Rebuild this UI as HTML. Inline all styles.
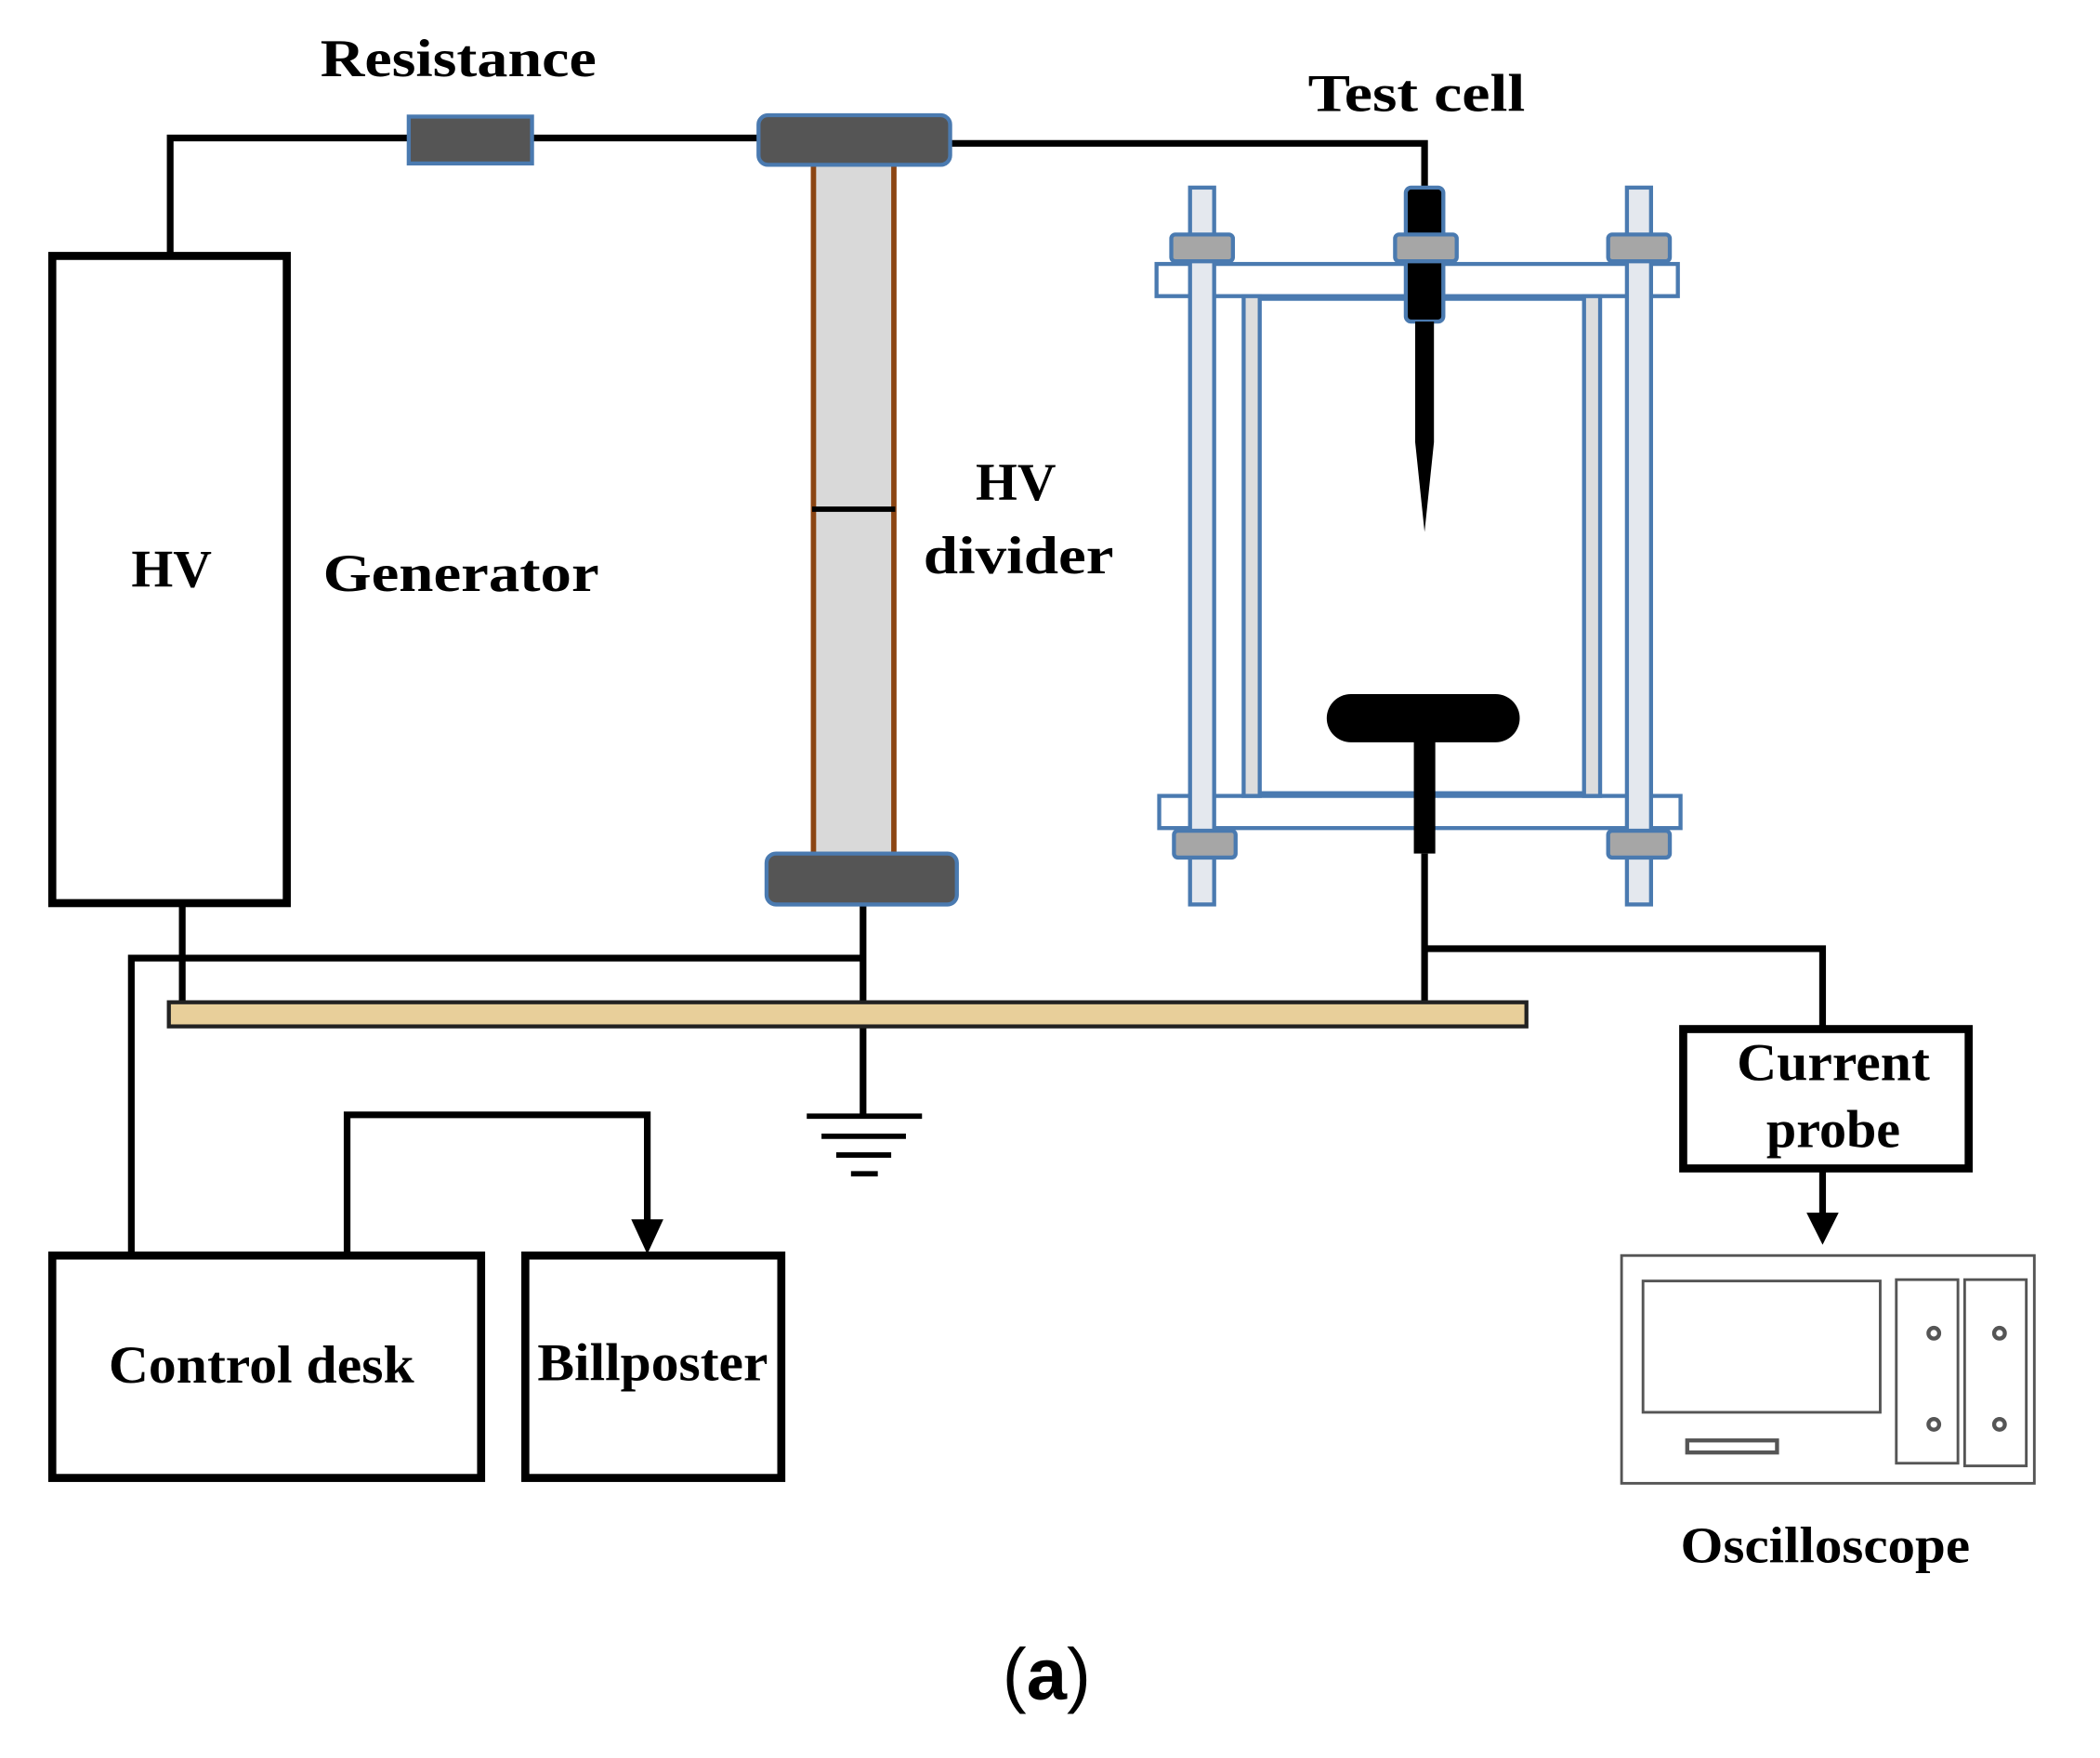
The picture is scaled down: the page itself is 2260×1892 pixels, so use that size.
<!DOCTYPE html>
<html><head><meta charset="utf-8"><style>html,body{margin:0;padding:0;background:#fff}svg{display:block}</style></head><body>
<svg width="2260" height="1892" viewBox="0 0 1567 1312" preserveAspectRatio="none" xmlns="http://www.w3.org/2000/svg" font-family="Liberation Serif, serif" font-weight="bold">
<rect width="1567" height="1312" fill="#fff"/>
<g stroke="#000" stroke-width="5" fill="none">
<polyline points="127,190 127,103 305,103"/>
<line x1="397" y1="103" x2="568" y2="103"/>
<polyline points="709,107 1063,107 1063,142"/>
<line x1="136" y1="674" x2="136" y2="752"/>
<polyline points="644,715 98,715 98,937"/>
<line x1="644" y1="675" x2="644" y2="833"/>
<line x1="1063" y1="637" x2="1063" y2="750"/>
<polyline points="1063,708 1360,708 1360,768"/>
<polyline points="259,937 259,832 483,832 483,912"/>
<line x1="1360" y1="872" x2="1360" y2="908"/>
<line x1="602" y1="833" x2="688" y2="833" stroke-width="4"/>
<line x1="613" y1="848" x2="676" y2="848" stroke-width="4"/>
<line x1="624" y1="862" x2="665" y2="862" stroke-width="4"/>
<line x1="635" y1="876" x2="655" y2="876" stroke-width="4"/>
</g>
<polygon points="471,910 495,910 483,936" fill="#000"/>
<polygon points="1348,905 1372,905 1360,929" fill="#000"/>
<rect x="305" y="87" width="92" height="35" fill="#555" stroke="#4a7ab0" stroke-width="3"/>
<rect x="606" y="123" width="62" height="515" fill="#d9d9d9"/>
<line x1="607" y1="123" x2="607" y2="638" stroke="#8b4513" stroke-width="4"/>
<line x1="667" y1="123" x2="667" y2="638" stroke="#8b4513" stroke-width="4"/>
<line x1="606" y1="380" x2="668" y2="380" stroke="#000" stroke-width="4"/>
<rect x="566" y="86" width="143" height="37" rx="7" fill="#555" stroke="#4a7ab0" stroke-width="3"/>
<rect x="572" y="637" width="142" height="38" rx="7" fill="#555" stroke="#4a7ab0" stroke-width="3"/>
<rect x="39" y="191" width="175" height="483" fill="none" stroke="#000" stroke-width="6"/>
<g stroke="#4a7ab0" stroke-width="3">
<rect x="863" y="197" width="389" height="24" fill="#fff"/>
<rect x="865" y="594" width="389" height="24" fill="#fff"/>
<rect x="928" y="221" width="12" height="373" fill="#ddd"/>
<rect x="1182" y="221" width="12" height="373" fill="#ddd"/>
<line x1="940" y1="223" x2="1182" y2="223"/>
<line x1="940" y1="592" x2="1182" y2="592"/>
<rect x="888" y="140" width="18" height="535" fill="#e4e8ee"/>
<rect x="1214" y="140" width="18" height="535" fill="#e4e8ee"/>
<rect x="874" y="175" width="46" height="20" rx="3" fill="#a6a6a6"/>
<rect x="1200" y="175" width="46" height="20" rx="3" fill="#a6a6a6"/>
<rect x="876" y="620" width="46" height="20" rx="3" fill="#a6a6a6"/>
<rect x="1200" y="620" width="46" height="20" rx="3" fill="#a6a6a6"/>
<rect x="1049" y="140" width="28" height="100" rx="4" fill="#000"/>
<rect x="1041" y="175" width="46" height="20" rx="3" fill="#a6a6a6"/>
</g>
<polygon points="1056,240 1070,240 1070,330 1063,397 1056,330" fill="#000"/>
<rect x="990" y="518" width="144" height="36" rx="18" fill="#000"/>
<rect x="1055" y="552" width="16" height="85" fill="#000"/>
<rect x="126" y="748" width="1013" height="18" fill="#e8cf9a" stroke="#222" stroke-width="3"/>
<rect x="39" y="937" width="320" height="166" fill="none" stroke="#000" stroke-width="6"/>
<rect x="392" y="937" width="191" height="166" fill="none" stroke="#000" stroke-width="6"/>
<rect x="1256" y="768" width="213" height="104" fill="none" stroke="#000" stroke-width="6"/>
<g fill="none" stroke="#555" stroke-width="2">
<rect x="1210" y="937" width="308" height="170"/>
<rect x="1226" y="956" width="177" height="98"/>
<rect x="1415" y="955" width="46" height="137"/>
<rect x="1466" y="955" width="46" height="139"/>
<rect x="1259" y="1075" width="67" height="9" stroke-width="3"/>
<circle cx="1443" cy="995" r="4" stroke-width="3"/>
<circle cx="1492" cy="995" r="4" stroke-width="3"/>
<circle cx="1443" cy="1063" r="4" stroke-width="3"/>
<circle cx="1492" cy="1063" r="4" stroke-width="3"/>
</g>
<g fill="#000" text-anchor="middle" font-size="40">
<text x="342" y="57" textLength="206" lengthAdjust="spacingAndGlyphs">Resistance</text>
<text x="1057" y="83" textLength="162" lengthAdjust="spacingAndGlyphs">Test cell</text>
<text x="128" y="438">HV</text>
<text x="344" y="441" textLength="206" lengthAdjust="spacingAndGlyphs">Generator</text>
<text x="758" y="373">HV</text>
<text x="760" y="428" textLength="142" lengthAdjust="spacingAndGlyphs">divider</text>
<text x="195" y="1032" textLength="228" lengthAdjust="spacingAndGlyphs">Control desk</text>
<text x="487" y="1030" textLength="172" lengthAdjust="spacingAndGlyphs">Billposter</text>
<text x="1368" y="806" textLength="144" lengthAdjust="spacingAndGlyphs">Current</text>
<text x="1368" y="856" textLength="100" lengthAdjust="spacingAndGlyphs">probe</text>
<text x="1362" y="1166" font-size="38" textLength="216" lengthAdjust="spacingAndGlyphs">Oscilloscope</text>
<text x="781" y="1268" font-size="54" font-family="Liberation Sans, sans-serif" font-weight="normal">(<tspan font-weight="bold">a</tspan>)</text>
</g>
</svg>
</body></html>
